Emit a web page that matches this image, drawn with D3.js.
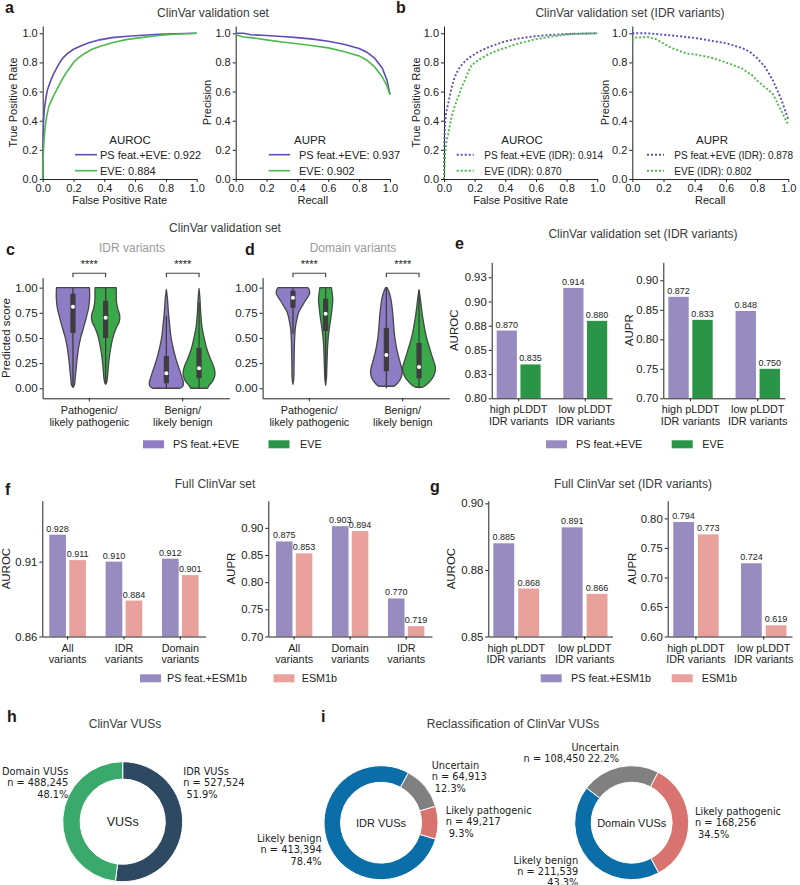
<!DOCTYPE html>
<html>
<head>
<meta charset="utf-8">
<script src="https://d3js.org/d3.v7.min.js"></script>
<style>
  body { margin: 0; background: #fff; }
  text { font-family: "Liberation Sans", Arial, sans-serif; }
</style>
</head>
<body>
<div id="area"></div>
<script>
// ---------------- data ----------------
var curveTicks = [0, 0.2, 0.4, 0.6, 0.8, 1.0];

// a: ClinVar validation set  [x, y]
var rocPS = [[0,0],[0.001,0.2],[0.005,0.38],[0.01,0.47],[0.02,0.55],[0.03,0.61],[0.05,0.67],[0.07,0.72],[0.1,0.78],[0.13,0.83],[0.16,0.86],[0.2,0.89],[0.25,0.915],[0.3,0.935],[0.37,0.955],[0.45,0.97],[0.55,0.98],[0.65,0.987],[0.75,0.993],[0.85,0.997],[1,1]];
var rocEVE = [[0,0],[0.002,0.12],[0.008,0.26],[0.015,0.35],[0.026,0.43],[0.04,0.5],[0.07,0.57],[0.1,0.63],[0.13,0.69],[0.16,0.74],[0.2,0.8],[0.23,0.83],[0.27,0.86],[0.32,0.89],[0.37,0.91],[0.45,0.935],[0.55,0.958],[0.65,0.972],[0.75,0.985],[0.85,0.993],[1,1]];
var prPS = [[0,1.0],[0.05,1.0],[0.1,0.99],[0.2,0.985],[0.3,0.978],[0.4,0.97],[0.5,0.96],[0.6,0.945],[0.7,0.925],[0.8,0.895],[0.85,0.87],[0.9,0.83],[0.95,0.76],[0.98,0.68],[1.0,0.58]];
var prEVE = [[0,0.99],[0.05,0.975],[0.1,0.97],[0.2,0.955],[0.3,0.94],[0.4,0.928],[0.5,0.915],[0.6,0.9],[0.7,0.875],[0.8,0.845],[0.85,0.815],[0.9,0.77],[0.95,0.7],[0.98,0.64],[1.0,0.58]];

// b: ClinVar validation set (IDR variants)
var rocPSIdr = [[0,0],[0.002,0.25],[0.006,0.38],[0.015,0.46],[0.028,0.52],[0.05,0.63],[0.07,0.7],[0.093,0.75],[0.12,0.79],[0.16,0.83],[0.22,0.87],[0.28,0.9],[0.33,0.92],[0.4,0.945],[0.49,0.965],[0.6,0.98],[0.7,0.989],[0.8,0.995],[0.9,0.998],[1,1]];
var rocEVEIdr = [[0,0],[0.003,0.08],[0.006,0.15],[0.015,0.25],[0.028,0.31],[0.05,0.43],[0.07,0.5],[0.093,0.565],[0.115,0.63],[0.137,0.68],[0.16,0.74],[0.18,0.78],[0.224,0.817],[0.28,0.85],[0.33,0.874],[0.4,0.9],[0.485,0.93],[0.6,0.96],[0.7,0.977],[0.83,0.995],[1,1]];
var prPSIdr = [[0,1.0],[0.1,1.0],[0.2,0.99],[0.3,0.98],[0.4,0.968],[0.5,0.95],[0.6,0.932],[0.7,0.9],[0.75,0.875],[0.8,0.83],[0.85,0.77],[0.9,0.68],[0.95,0.56],[1.0,0.41]];
var prEVEIdr = [[0,0.95],[0.02,0.97],[0.1,0.975],[0.15,0.96],[0.2,0.93],[0.25,0.9],[0.3,0.88],[0.35,0.86],[0.4,0.855],[0.5,0.835],[0.6,0.8],[0.7,0.76],[0.77,0.71],[0.8,0.675],[0.85,0.63],[0.9,0.585],[0.95,0.48],[1.0,0.37]];

// c, d: violins  shape = [score, relative half width]
var violinGroups = ["Pathogenic/\nlikely pathogenic", "Benign/\nlikely benign"];
var violinModels = ["PS feat.+EVE", "EVE"];
var violinTicks = [0, 0.25, 0.5, 0.75, 1.0];
var cPathPS = [[0.01,0],[0.03,0.08],[0.1,0.13],[0.2,0.19],[0.3,0.25],[0.4,0.33],[0.5,0.45],[0.6,0.62],[0.7,0.78],[0.8,0.92],[0.9,0.98],[1.0,0.97]];
var cPathEVE = [[0.04,0],[0.06,0.06],[0.1,0.1],[0.2,0.15],[0.3,0.21],[0.4,0.3],[0.5,0.42],[0.6,0.62],[0.66,0.8],[0.72,0.83],[0.8,0.7],[0.88,0.63],[0.95,0.63],[1.0,0.62]];
var cBenPS = [[0.0,0.8],[0.02,0.97],[0.06,1.0],[0.1,0.93],[0.15,0.84],[0.2,0.74],[0.3,0.55],[0.4,0.4],[0.5,0.28],[0.6,0.21],[0.7,0.15],[0.8,0.1],[0.9,0.06],[0.98,0]];
var cBenEVE = [[0.0,0.5],[0.03,0.6],[0.07,0.8],[0.12,0.92],[0.17,0.93],[0.23,0.83],[0.3,0.65],[0.4,0.44],[0.5,0.3],[0.6,0.18],[0.7,0.12],[0.8,0.08],[0.9,0.05],[0.99,0]];
var dPathPS = [[0.04,0],[0.1,0.05],[0.2,0.06],[0.3,0.07],[0.4,0.08],[0.5,0.1],[0.6,0.14],[0.7,0.25],[0.76,0.35],[0.82,0.55],[0.86,0.69],[0.9,0.85],[0.94,0.98],[0.97,0.97],[1.0,0.88]];
var dPathEVE = [[0.03,0],[0.1,0.05],[0.2,0.07],[0.3,0.09],[0.4,0.11],[0.5,0.15],[0.6,0.22],[0.7,0.31],[0.8,0.38],[0.88,0.42],[0.95,0.38],[1.0,0.34]];
var dBenPS = [[0.02,0.45],[0.05,0.65],[0.1,0.85],[0.15,0.93],[0.2,0.9],[0.25,0.82],[0.3,0.74],[0.4,0.6],[0.5,0.5],[0.6,0.44],[0.7,0.4],[0.8,0.34],[0.9,0.25],[0.96,0.15],[1.0,0.05]];
var dBenEVE = [[0.01,0.2],[0.03,0.4],[0.07,0.65],[0.12,0.85],[0.17,0.95],[0.21,0.96],[0.26,0.88],[0.3,0.8],[0.4,0.62],[0.46,0.51],[0.55,0.38],[0.63,0.29],[0.7,0.22],[0.8,0.14],[0.9,0.07],[0.98,0]];
// box stats [whiskerLow, q1, median, q3, whiskerHigh]
var cStats = [[0.01,0.55,0.81,0.94,1.0],[0.04,0.5,0.70,0.87,1.0],[0.0,0.05,0.15,0.32,0.72],[0.0,0.1,0.2,0.4,0.85]];
var dStats = [[0.54,0.8,0.9,0.97,1.0],[0.09,0.57,0.74,0.89,1.0],[0.0,0.17,0.33,0.6,1.0],[0.0,0.1,0.21,0.45,0.97]];

// e: ClinVar validation set (IDR variants)
var pLddtGroups = ["high pLDDT\nIDR variants", "low pLDDT\nIDR variants"];
var eAurocPS = [0.870, 0.914], eAurocEVE = [0.835, 0.880];
var eAuprPS = [0.872, 0.848], eAuprEVE = [0.833, 0.750];
var eAurocTicks = [0.8, 0.825, 0.85, 0.875, 0.9, 0.925];
var eAurocLabels = ["0.80", "0.83", "0.85", "0.88", "0.90", "0.93"];
var eAuprTicks = [0.7, 0.75, 0.8, 0.85, 0.9];
var eAuprLabels = ["0.70", "0.75", "0.80", "0.85", "0.90"];

// f: Full ClinVar set
var fAurocGroups = ["All\nvariants", "IDR\nvariants", "Domain\nvariants"];
var fAurocPS = [0.928, 0.910, 0.912], fAurocESM = [0.911, 0.884, 0.901];
var fAuprGroups = ["All\nvariants", "Domain\nvariants", "IDR\nvariants"];
var fAuprPS = [0.875, 0.903, 0.770], fAuprESM = [0.853, 0.894, 0.719];
var fAurocTicks = [0.86, 0.91], fAurocLabels = ["0.86", "0.91"];
var fAuprTicks = [0.7, 0.75, 0.8, 0.85, 0.9];
var fAuprLabels = ["0.70", "0.75", "0.80", "0.85", "0.90"];

// g: Full ClinVar set (IDR variants)
var gAurocPS = [0.885, 0.891], gAurocESM = [0.868, 0.866];
var gAuprPS = [0.794, 0.724], gAuprESM = [0.773, 0.619];
var gAurocTicks = [0.85, 0.875, 0.9], gAurocLabels = ["0.85", "0.88", "0.90"];
var gAuprTicks = [0.6, 0.65, 0.7, 0.75, 0.8];
var gAuprLabels = ["0.60", "0.65", "0.70", "0.75", "0.80"];

// h, i: VUS donuts
var vusNames = ["IDR VUSs", "Domain VUSs"];
var vusCounts = [527524, 488245];
var reclassNames = ["Likely benign", "Likely pathogenic", "Uncertain"];
var idrReclass = [413394, 49217, 64913];
var domainReclass = [211539, 168256, 108450];

// ---------------- styles ----------------
var INK = "#222";
var TITLE = "#3a3a3a";
var LINE_PS = "#5b4fb8", LINE_EVE = "#4cb84a";
var VIO_PS = "#8e7cc6", VIO_EVE = "#3aa94a";
var BAR_PS = "#978bbf", BAR_EVE = "#2a9547", BAR_ESM = "#e8a19b";
var DEJAVU = '"DejaVu Sans", sans-serif';

var svg = d3.select("#area").append("svg")
  .attr("width", 800).attr("height", 885);

function txt(x, y, s, o) {
  o = o || {};
  return svg.append("text").attr("x", x).attr("y", y).text(s)
    .attr("font-size", o.size || 11)
    .attr("text-anchor", o.anchor || "start")
    .attr("fill", o.fill || INK)
    .attr("font-weight", o.weight || null)
    .style("font-family", o.family || null);
}
function vtxt(x, y, s, size) {
  return svg.append("text").attr("transform", "translate(" + x + "," + y + ")rotate(-90)")
    .attr("text-anchor", "middle").attr("font-size", size || 11).attr("fill", INK).text(s);
}
function panelLetter(x, y, s) { txt(x, y, s, {size: 16, weight: "bold", fill: "#231815"}); }
function title(x, y, s, fill) { txt(x, y, s, {size: 12, anchor: "middle", fill: fill || TITLE}); }

function styleAxis(g, size) {
  g.selectAll(".domain").attr("stroke", INK).attr("stroke-width", 1);
  g.selectAll(".tick line").attr("stroke", INK);
  g.selectAll(".tick text").attr("font-size", size || 11).attr("fill", INK);
}
// two line category labels below an x axis
function multiline(g, y0) {
  g.selectAll(".tick text").each(function(d) {
    var t = d3.select(this).attr("y", null).attr("dy", null).text(null);
    d.split("\n").forEach(function(p, i) {
      t.append("tspan").attr("x", 0).attr("y", y0 + i * 11.6).text(p);
    });
  }).attr("font-size", 10.8);
}

// ---------------- a, b: curves ----------------
function curvePanel(o) {
  var x = d3.scaleLinear().domain([0, 1]).range([o.left, o.left + o.w]);
  var y = d3.scaleLinear().domain([0, 1.05]).range([179, 26]);
  var gx = svg.append("g").attr("transform", "translate(0,179)")
    .call(d3.axisBottom(x).tickValues(curveTicks).tickFormat(d3.format(".1f"))
      .tickSize(3).tickSizeOuter(0).tickPadding(1.8));
  styleAxis(gx);
  var gy = svg.append("g").attr("transform", "translate(" + o.left + ",0)")
    .call(d3.axisLeft(y).tickValues(curveTicks).tickFormat(d3.format(".1f"))
      .tickSize(3).tickSizeOuter(0).tickPadding(2));
  styleAxis(gy);
  txt(o.left + o.w / 2, 203.5, o.xlab, {anchor: "middle"});
  vtxt(o.ylabX, 102.5, o.ylab);

  var line = d3.line().x(function(d) { return x(d[0]); }).y(function(d) { return y(d[1]); });
  o.series.forEach(function(s) {
    svg.append("path").datum(s.data).attr("d", line)
      .attr("fill", "none").attr("stroke", s.color).attr("stroke-width", o.dash ? 1.9 : 1.6)
      .attr("stroke-dasharray", o.dash || null);
  });
  // legend
  txt(o.legTitleX, 144, o.legTitle, {anchor: "middle", size: 11.5});
  o.series.forEach(function(s, i) {
    var ly = 154.7 + i * 16;
    svg.append("line").attr("x1", o.legX).attr("x2", o.legX + o.handle).attr("y1", ly).attr("y2", ly)
      .attr("stroke", s.color).attr("stroke-width", o.dash ? 1.9 : 1.6)
      .attr("stroke-dasharray", o.dash || null);
    txt(o.legTextX, ly + 3.8, s.name, {size: o.legSize});
  });
}

panelLetter(5, 12.5, "a");
title(213, 16.5, "ClinVar validation set");
curvePanel({left: 42.7, w: 154, xlab: "False Positive Rate", ylab: "True Positive Rate", ylabX: 16.5,
  legTitle: "AUROC", legTitleX: 130, legX: 75, handle: 22, legTextX: 100, legSize: 11,
  series: [{data: rocPS, color: LINE_PS, name: "PS feat.+EVE: 0.922"},
           {data: rocEVE, color: LINE_EVE, name: "EVE: 0.884"}]});
curvePanel({left: 235.7, w: 154.3, xlab: "Recall", ylab: "Precision", ylabX: 211,
  legTitle: "AUPR", legTitleX: 310, legX: 268.7, handle: 21.5, legTextX: 299, legSize: 11,
  series: [{data: prPS, color: LINE_PS, name: "PS feat.+EVE: 0.937"},
           {data: prEVE, color: LINE_EVE, name: "EVE: 0.902"}]});

panelLetter(396, 12.5, "b");
title(630, 16.5, "ClinVar validation set (IDR variants)");
curvePanel({left: 444, w: 153.3, xlab: "False Positive Rate", ylab: "True Positive Rate", ylabX: 420,
  legTitle: "AUROC", legTitleX: 522, legX: 456.7, handle: 17, legTextX: 484.3, legSize: 10,
  dash: "2,2",
  series: [{data: rocPSIdr, color: LINE_PS, name: "PS feat.+EVE (IDR): 0.914"},
           {data: rocEVEIdr, color: LINE_EVE, name: "EVE (IDR): 0.870"}]});
curvePanel({left: 632.3, w: 156, xlab: "Recall", ylab: "Precision", ylabX: 609,
  legTitle: "AUPR", legTitleX: 712, legX: 647, handle: 17, legTextX: 674.3, legSize: 10,
  dash: "2,2",
  series: [{data: prPSIdr, color: LINE_PS, name: "PS feat.+EVE (IDR): 0.878"},
           {data: prEVEIdr, color: LINE_EVE, name: "EVE (IDR): 0.802"}]});

// ---------------- c, d: violins ----------------
function violinPanel(o) {
  var x = d3.scaleBand().domain(violinGroups).range([o.left, o.left + 186.8]);
  var dodge = d3.scaleBand().domain(violinModels).range([-x.step() * 0.35, x.step() * 0.35]);
  var y = d3.scaleLinear().domain([-0.1, 1.1]).range([398.3, 277.6]);
  var HW = 17;

  var gx = svg.append("g").attr("transform", "translate(0,398.3)")
    .call(d3.axisBottom(x).tickSize(3).tickSizeOuter(0));
  styleAxis(gx);
  multiline(gx, 15.7);
  var gy = svg.append("g").attr("transform", "translate(" + o.left + ",0)")
    .call(d3.axisLeft(y).tickValues(violinTicks).tickFormat(d3.format(".2f"))
      .tickSize(3).tickSizeOuter(0).tickPadding(2));
  styleAxis(gy, 11.5);

  var colors = [VIO_PS, VIO_EVE];
  o.shapes.forEach(function(shape, k) {
    var gi = Math.floor(k / 2), mi = k % 2;
    var cx = x(violinGroups[gi]) + x.bandwidth() / 2 + dodge(violinModels[mi]) + dodge.bandwidth() / 2;
    var area = d3.area().curve(d3.curveCatmullRom)
      .y(function(d) { return y(d[0]); })
      .x0(function(d) { return cx - d[1] * HW; })
      .x1(function(d) { return cx + d[1] * HW; });
    svg.append("path").datum(shape).attr("d", area)
      .attr("fill", colors[mi]).attr("stroke", "#474747").attr("stroke-width", 1.3)
      .attr("stroke-linejoin", "round");
    var st = o.stats[k];
    svg.append("line").attr("x1", cx).attr("x2", cx).attr("y1", y(st[0])).attr("y2", y(st[4]))
      .attr("stroke", "#3d3d3d").attr("stroke-width", 1.3);
    svg.append("rect").attr("x", cx - 2.6).attr("width", 5.2)
      .attr("y", y(st[3])).attr("height", y(st[1]) - y(st[3])).attr("fill", "#3d3d3d");
    svg.append("circle").attr("cx", cx).attr("cy", y(st[2])).attr("r", 2).attr("fill", "#fff");
  });

  // significance brackets
  violinGroups.forEach(function(g) {
    var c0 = x(g) + x.bandwidth() / 2;
    var xa = c0 + dodge(violinModels[0]) + dodge.bandwidth() / 2;
    var xb = c0 + dodge(violinModels[1]) + dodge.bandwidth() / 2;
    var yb = y(1.143);
    svg.append("path").attr("d", "M" + xa + "," + (yb + 4) + "V" + yb + "H" + xb + "V" + (yb + 4))
      .attr("fill", "none").attr("stroke", "#474747").attr("stroke-width", 1.2);
    txt((xa + xb) / 2, yb - 5, "****", {anchor: "middle", size: 11});
  });
  if (o.ylab) vtxt(o.ylabX, 338, o.ylab, 11.5);
}

title(225, 231.5, "ClinVar validation set");
panelLetter(6, 255, "c");
title(132, 252, "IDR variants", "#9a9a9a");
violinPanel({left: 42.6, shapes: [cPathPS, cPathEVE, cBenPS, cBenEVE], stats: cStats,
  ylab: "Predicted score", ylabX: 9.5});
panelLetter(245, 255, "d");
title(353, 252, "Domain variants", "#9a9a9a");
violinPanel({left: 262.6, shapes: [dPathPS, dPathEVE, dBenPS, dBenEVE], stats: dStats});

// ---------------- bars ----------------
function barPanel(o) {
  var x = d3.scaleBand().domain(o.groups).range([o.left, o.right])
    .paddingInner(o.pi).paddingOuter(o.po);
  var xs = d3.scaleBand().domain([0, 1]).range([0, x.bandwidth()]).paddingInner(o.gap);
  var y = d3.scaleLinear().domain(o.domain).range([o.bottom, o.top]);

  [o.a, o.b].forEach(function(vals, s) {
    svg.append("g").selectAll("rect").data(vals).enter().append("rect")
      .attr("x", function(d, i) { return x(o.groups[i]) + xs(s); })
      .attr("width", xs.bandwidth())
      .attr("y", function(d) { return y(d); })
      .attr("height", function(d) { return o.bottom - y(d); })
      .attr("fill", o.colors[s]);
    svg.append("g").selectAll("text").data(vals).enter().append("text")
      .attr("x", function(d, i) { return x(o.groups[i]) + xs(s) + xs.bandwidth() / 2; })
      .attr("y", function(d) { return y(d) - 3; })
      .attr("text-anchor", "middle").attr("font-size", 9).attr("fill", INK)
      .text(d3.format(".3f"));
  });

  var gx = svg.append("g").attr("transform", "translate(0," + o.bottom + ")")
    .call(d3.axisBottom(x).tickSize(3).tickSizeOuter(0));
  styleAxis(gx);
  multiline(gx, 15.2);
  var gy = svg.append("g").attr("transform", "translate(" + o.left + ",0)")
    .call(d3.axisLeft(y).tickValues(o.ticks).tickFormat(function(d, i) { return o.tickLabels[i]; })
      .tickSize(3).tickSizeOuter(0).tickPadding(2));
  styleAxis(gy, 11.3);
  vtxt(o.ylabX, (o.top + o.bottom) / 2, o.ylab, 11.5);
}

function boxLegend(y, items) {
  items.forEach(function(it) {
    svg.append("rect").attr("x", it.x).attr("y", y - 4).attr("width", 21).attr("height", 8)
      .attr("fill", it.color);
    txt(it.tx, y + 4, it.name, {size: 10.8});
  });
}

// e
title(643, 238, "ClinVar validation set (IDR variants)");
panelLetter(455, 249, "e");
barPanel({groups: pLddtGroups, a: eAurocPS, b: eAurocEVE, colors: [BAR_PS, BAR_EVE],
  left: 491.7, right: 612.2, pi: 0.34, po: 0.075, gap: 0.15,
  domain: [0.8, 0.9405], bottom: 398.3, top: 262.3,
  ticks: eAurocTicks, tickLabels: eAurocLabels, ylab: "AUROC", ylabX: 458});
barPanel({groups: pLddtGroups, a: eAuprPS, b: eAuprEVE, colors: [BAR_PS, BAR_EVE],
  left: 663.3, right: 785, pi: 0.34, po: 0.075, gap: 0.15,
  domain: [0.7, 0.9305], bottom: 398.3, top: 262.3,
  ticks: eAuprTicks, tickLabels: eAuprLabels, ylab: "AUPR", ylabX: 632.5});
boxLegend(444.3, [{x: 143, tx: 173, color: VIO_PS, name: "PS feat.+EVE"},
                  {x: 268.5, tx: 300, color: BAR_EVE, name: "EVE"}]);
boxLegend(444.3, [{x: 546, tx: 576, color: BAR_PS, name: "PS feat.+EVE"},
                  {x: 671.7, tx: 702.3, color: BAR_EVE, name: "EVE"}]);

// f
title(215, 488, "Full ClinVar set");
panelLetter(5, 495, "f");
barPanel({groups: fAurocGroups, a: fAurocPS, b: fAurocESM, colors: [BAR_PS, BAR_ESM],
  left: 42.3, right: 205.6, pi: 0.35, po: 0.124, gap: 0.165,
  domain: [0.86, 0.9507], bottom: 636.5, top: 500.7,
  ticks: fAurocTicks, tickLabels: fAurocLabels, ylab: "AUROC", ylabX: 10});
barPanel({groups: fAuprGroups, a: fAuprPS, b: fAuprESM, colors: [BAR_PS, BAR_ESM],
  left: 268.3, right: 432, pi: 0.35, po: 0.136, gap: 0.165,
  domain: [0.7, 0.95], bottom: 636.5, top: 500.7,
  ticks: fAuprTicks, tickLabels: fAuprLabels, ylab: "AUPR", ylabX: 235});
boxLegend(678.3, [{x: 140, tx: 167, color: BAR_PS, name: "PS feat.+ESM1b"},
                  {x: 273.5, tx: 301.7, color: BAR_ESM, name: "ESM1b"}]);

// g
title(633, 488, "Full ClinVar set (IDR variants)");
panelLetter(430, 492, "g");
barPanel({groups: pLddtGroups, a: gAurocPS, b: gAurocESM, colors: [BAR_PS, BAR_ESM],
  left: 488.3, right: 612.5, pi: 0.33, po: 0.073, gap: 0.16,
  domain: [0.85, 0.901], bottom: 636.5, top: 500.7,
  ticks: gAurocTicks, tickLabels: gAurocLabels, ylab: "AUROC", ylabX: 455});
barPanel({groups: pLddtGroups, a: gAuprPS, b: gAuprESM, colors: [BAR_PS, BAR_ESM],
  left: 667.7, right: 792, pi: 0.33, po: 0.082, gap: 0.16,
  domain: [0.6, 0.83], bottom: 636.5, top: 500.7,
  ticks: gAuprTicks, tickLabels: gAuprLabels, ylab: "AUPR", ylabX: 635.5});
boxLegend(678.3, [{x: 540.7, tx: 571, color: BAR_PS, name: "PS feat.+ESM1b"},
                  {x: 671.7, tx: 701.7, color: BAR_ESM, name: "ESM1b"}]);

// ---------------- h, i: donuts ----------------
var fmtN = d3.format(",");
function donut(o) {
  var total = d3.sum(o.values);
  var a0 = o.start * Math.PI / 180;
  var pie = d3.pie().sort(null).startAngle(a0).endAngle(a0 + o.dir * 2 * Math.PI);
  var arc = d3.arc().innerRadius(o.r * 0.71).outerRadius(o.r);
  var g = svg.append("g").attr("transform", "translate(" + o.cx + "," + o.cy + ")");
  g.selectAll("path").data(pie(o.values)).enter().append("path")
    .attr("d", arc).attr("fill", function(d, i) { return o.colors[i]; })
    .attr("stroke", "#fff").attr("stroke-width", 1);
  txt(o.cx, o.cy + 4.3, o.center, {anchor: "middle", size: o.centerSize});
  o.labels.forEach(function(l, i) {
    var pct = (o.values[i] / total * 100).toFixed(1) + "%";
    var n = "n = " + fmtN(o.values[i]);
    var lines = l.twoLine ? [o.names[i], n + " " + pct] : [o.names[i], n, "\u00a0" + pct];
    var t = svg.append("text").attr("font-size", 9.8).attr("fill", INK)
      .attr("text-anchor", l.anchor).style("font-family", DEJAVU);
    lines.forEach(function(s, k) {
      t.append("tspan").attr("x", l.x).attr("y", l.y + k * 11.3).text(s);
    });
  });
}

panelLetter(7, 721.7, "h");
title(125, 728, "ClinVar VUSs");
donut({cx: 122.7, cy: 821.7, r: 60, values: vusCounts, names: vusNames,
  colors: ["#2e4a63", "#3aaa6c"], start: 0, dir: 1, center: "VUSs", centerSize: 12.5,
  labels: [{x: 183.3, y: 775, anchor: "start"}, {x: 68.3, y: 775, anchor: "end"}]});

panelLetter(321, 721.7, "i");
title(513, 728.3, "Reclassification of ClinVar VUSs");
var reclassColors = ["#0b6ea8", "#d9736f", "#808080"];
donut({cx: 381, cy: 822.7, r: 57, values: idrReclass, names: reclassNames,
  colors: reclassColors, start: 28.8, dir: -1, center: "IDR VUSs", centerSize: 11,
  labels: [{x: 321.7, y: 842, anchor: "end"}, {x: 445.7, y: 814, anchor: "start"},
           {x: 431.7, y: 769, anchor: "start"}]});
donut({cx: 631.7, cy: 822.7, r: 57, values: domainReclass, names: reclassNames,
  colors: reclassColors, start: 307.6, dir: -1, center: "Domain VUSs", centerSize: 11,
  labels: [{x: 578.3, y: 863.5, anchor: "end"}, {x: 695, y: 815, anchor: "start"},
           {x: 619, y: 751, anchor: "end", twoLine: true}]});
</script>
</body>
</html>
